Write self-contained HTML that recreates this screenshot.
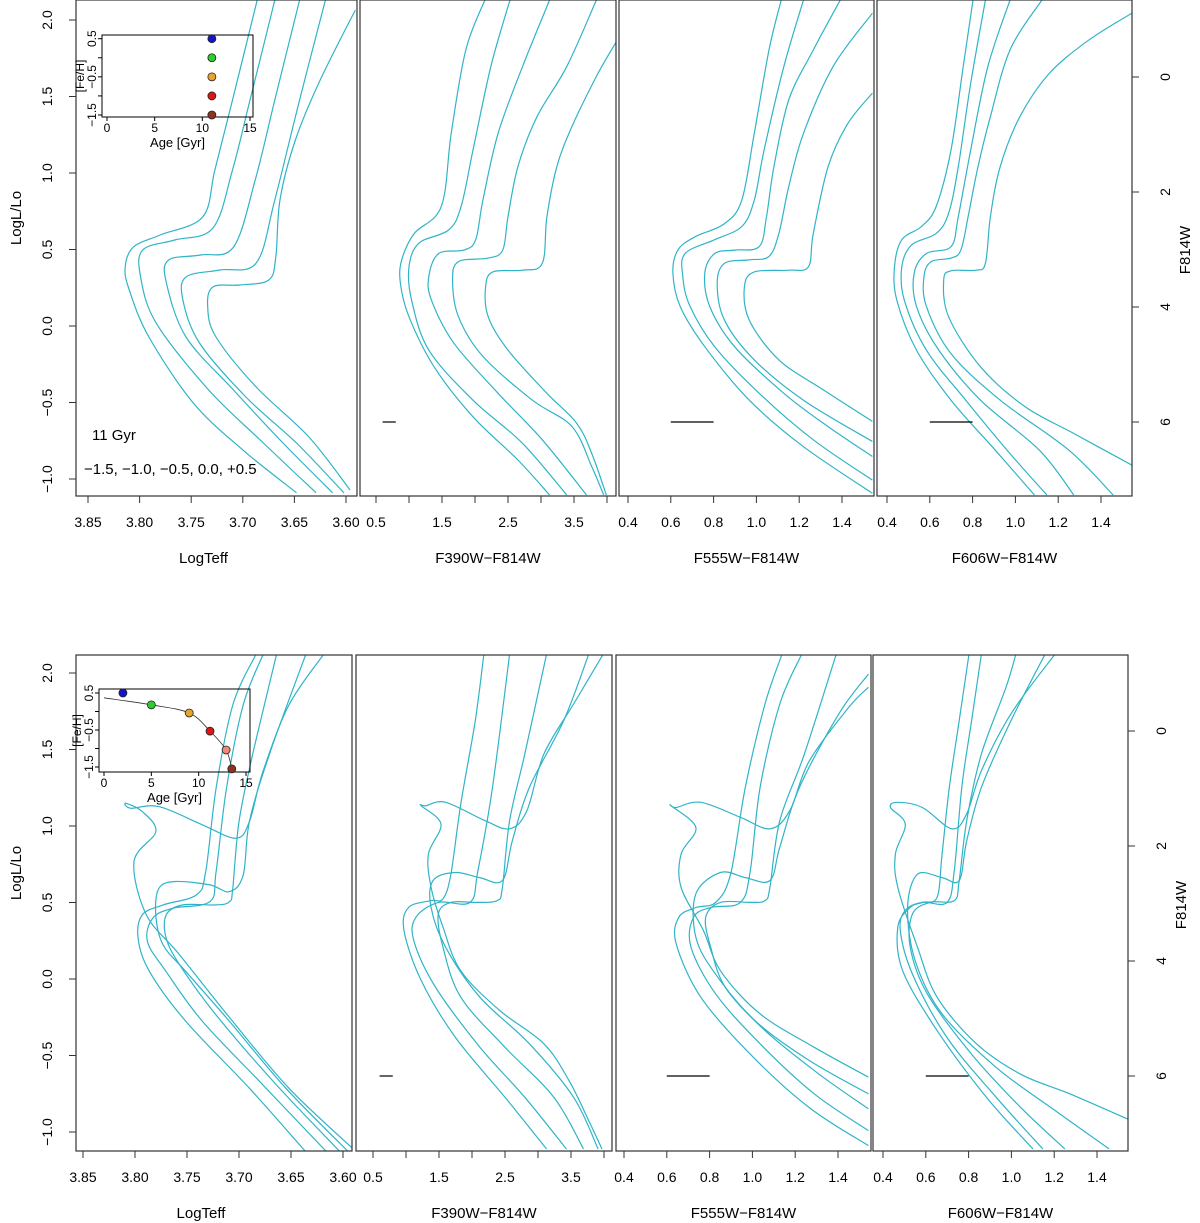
<!DOCTYPE html>
<html><head><meta charset="utf-8">
<style>
html,body{margin:0;padding:0;background:#fff;}
svg{display:block;font-family:"Liberation Sans",Arial,sans-serif;}
</style></head>
<body>
<svg id="chart" width="1200" height="1223" viewBox="0 0 1200 1223" xmlns="http://www.w3.org/2000/svg">
<defs id="defs"></defs>
<g id="root"></g>
</svg>
<script>
// ---------- data (top row: 11 Gyr, [Fe/H] = -1.5,-1.0,-0.5,0.0,+0.5) ----------
const topLogTeffCurves = [
 [[3.648,-1.09],[3.700,-0.81],[3.748,-0.503],[3.791,-0.072],[3.810,0.235],[3.814,0.386],[3.806,0.516],[3.780,0.595],[3.739,0.712],[3.727,1.02],[3.710,1.477],[3.686,2.13]],
 [[3.629,-1.09],[3.680,-0.765],[3.733,-0.418],[3.784,0.02],[3.799,0.32],[3.797,0.497],[3.766,0.562],[3.729,0.64],[3.710,1.02],[3.693,1.477],[3.669,2.13]],
 [[3.613,-1.09],[3.661,-0.765],[3.709,-0.418],[3.755,-0.072],[3.774,0.281],[3.772,0.431],[3.741,0.464],[3.709,0.516],[3.688,0.954],[3.669,1.477],[3.645,2.13]],
 [[3.602,-1.09],[3.648,-0.765],[3.697,-0.464],[3.742,-0.111],[3.758,0.17],[3.755,0.32],[3.722,0.366],[3.687,0.412],[3.669,0.824],[3.645,1.477],[3.620,2.13]],
 [[3.596,-1.072],[3.636,-0.725],[3.687,-0.399],[3.726,-0.072],[3.734,0.124],[3.729,0.255],[3.703,0.268],[3.675,0.30],[3.668,0.45],[3.664,0.824],[3.649,1.216],[3.625,1.608],[3.591,2.065]]
];
const topF390Curves = [
 [[2.15,-1.34],[1.86,-0.47],[1.64,0.98],[1.49,2.25],[1.08,2.72],[0.89,3.18],[0.87,3.59],[1.00,4.17],[1.38,5.04],[1.97,5.91],[2.65,6.66],[3.13,7.27]],
 [[2.53,-1.34],[2.24,-0.18],[1.97,1.27],[1.79,2.25],[1.60,2.66],[1.15,2.89],[1.00,3.30],[1.04,3.88],[1.30,4.75],[1.97,5.62],[2.72,6.37],[3.39,7.27]],
 [[3.13,-1.34],[2.72,-0.18],[2.35,0.98],[2.12,2.14],[2.01,2.83],[1.83,3.01],[1.45,3.07],[1.30,3.47],[1.34,3.88],[1.68,4.63],[2.35,5.50],[3.02,6.31],[3.69,7.27]],
 [[3.84,-1.34],[3.39,-0.18],[2.94,0.69],[2.65,1.56],[2.50,2.43],[2.42,3.01],[2.20,3.15],[1.75,3.21],[1.66,3.53],[1.75,4.17],[2.12,4.86],[2.87,5.62],[3.47,6.08],[3.77,6.78],[3.95,7.27]],
 [[4.14,-0.61],[3.84,-0.01],[3.47,0.86],[3.24,1.56],[3.09,2.43],[3.02,3.24],[2.72,3.36],[2.27,3.39],[2.16,3.65],[2.20,4.17],[2.50,4.75],[3.09,5.50],[3.54,6.02],[3.77,6.55],[3.99,7.27]]
];
const topF555Curves = [
 [[1.116,-1.34],[1.059,-0.47],[0.99,0.98],[0.932,2.14],[0.851,2.55],[0.713,2.78],[0.633,3.01],[0.61,3.41],[0.644,3.99],[0.759,4.69],[0.967,5.62],[1.22,6.43],[1.542,7.24]],
 [[1.22,-1.34],[1.128,-0.18],[1.036,1.27],[0.99,2.14],[0.932,2.60],[0.805,2.83],[0.667,3.07],[0.656,3.47],[0.69,3.99],[0.805,4.69],[1.013,5.50],[1.266,6.31],[1.542,7.01]],
 [[1.392,-1.34],[1.266,-0.47],[1.151,0.40],[1.082,1.56],[1.047,2.43],[1.013,2.95],[0.898,3.01],[0.805,3.07],[0.759,3.41],[0.782,3.99],[0.898,4.69],[1.128,5.50],[1.335,6.08],[1.542,6.60]],
 [[1.542,-1.11],[1.358,-0.18],[1.22,0.98],[1.151,1.91],[1.105,2.72],[1.059,3.12],[0.967,3.18],[0.851,3.24],[0.817,3.59],[0.851,4.23],[0.99,4.92],[1.22,5.62],[1.542,6.34]],
 [[1.542,0.28],[1.427,0.81],[1.335,1.56],[1.266,2.72],[1.243,3.30],[1.151,3.36],[0.99,3.39],[0.944,3.65],[0.967,4.23],[1.105,4.92],[1.312,5.44],[1.542,5.99]]
];
const topF606Curves = [
 [[0.802,-1.34],[0.756,-0.18],[0.699,1.27],[0.630,2.25],[0.561,2.60],[0.469,2.83],[0.435,3.30],[0.446,3.88],[0.538,4.75],[0.699,5.62],[0.906,6.49],[1.089,7.27]],
 [[0.860,-1.34],[0.791,0.11],[0.733,1.56],[0.688,2.37],[0.630,2.72],[0.515,2.92],[0.469,3.30],[0.481,3.88],[0.584,4.75],[0.768,5.62],[0.975,6.55],[1.147,7.27]],
 [[0.975,-1.34],[0.871,-0.18],[0.791,1.27],[0.733,2.43],[0.699,2.95],[0.584,3.07],[0.527,3.41],[0.538,3.99],[0.642,4.75],[0.837,5.62],[1.112,6.49],[1.273,7.27]],
 [[1.124,-1.34],[0.975,-0.47],[0.883,0.69],[0.825,1.56],[0.779,2.43],[0.745,3.01],[0.699,3.15],[0.607,3.21],[0.573,3.47],[0.584,3.99],[0.699,4.81],[0.929,5.62],[1.250,6.49],[1.457,7.27]],
 [[1.544,-1.11],[1.342,-0.64],[1.158,-0.06],[1.021,0.69],[0.929,1.56],[0.883,2.43],[0.860,3.24],[0.814,3.36],[0.699,3.37],[0.665,3.53],[0.688,4.17],[0.837,5.04],[1.044,5.73],[1.273,6.20],[1.544,6.75]]
];
// ---------- data (bottom row: age-metallicity relation) ----------
const botLogTeffCurves = [
 [[3.636,-1.128],[3.690,-0.714],[3.751,-0.278],[3.786,0.048],[3.797,0.266],[3.793,0.419],[3.773,0.484],[3.741,0.55],[3.732,0.702],[3.722,1.247],[3.706,1.791],[3.684,2.118]],
 [[3.616,-1.128],[3.677,-0.692],[3.735,-0.278],[3.770,0.048],[3.788,0.244],[3.783,0.397],[3.764,0.462],[3.728,0.506],[3.722,0.702],[3.712,1.247],[3.696,1.791],[3.677,2.118]],
 [[3.603,-1.128],[3.664,-0.692],[3.722,-0.235],[3.757,0.092],[3.770,0.266],[3.770,0.419],[3.754,0.484],[3.722,0.484],[3.709,0.506],[3.706,0.593],[3.700,1.029],[3.687,1.464],[3.664,2.118]],
 [[3.595,-1.128],[3.655,-0.714],[3.709,-0.278],[3.751,0.048],[3.773,0.223],[3.780,0.419],[3.777,0.593],[3.761,0.637],[3.728,0.615],[3.709,0.571],[3.696,0.68],[3.690,1.029],[3.671,1.464],[3.636,2.118]],
 [[3.591,-1.106],[3.652,-0.714],[3.706,-0.278],[3.757,0.157],[3.789,0.419],[3.801,0.767],[3.780,0.963],[3.793,1.094],[3.809,1.149],[3.804,1.116],[3.777,1.127],[3.735,1.007],[3.703,0.92],[3.690,1.029],[3.677,1.355],[3.652,1.791],[3.619,2.118]]
];
const botF390Curves = [
 [[3.13,7.27],[2.50,6.37],[1.75,5.33],[1.23,4.34],[0.97,3.47],[1.04,3.07],[1.38,2.95],[1.56,2.92],[1.68,2.49],[1.83,1.27],[2.05,-0.18],[2.18,-1.34]],
 [[3.43,7.27],[2.80,6.37],[2.12,5.50],[1.45,4.46],[1.12,3.65],[1.15,3.24],[1.49,2.98],[1.97,2.98],[2.09,2.43],[2.31,0.98],[2.57,-1.34]],
 [[3.69,7.27],[3.24,6.37],[2.50,5.50],[1.83,4.63],[1.56,3.76],[1.49,3.18],[1.68,2.98],[2.05,2.98],[2.38,2.95],[2.46,2.72],[2.57,1.56],[2.80,0.40],[3.13,-1.34]],
 [[3.91,7.27],[3.54,6.37],[2.87,5.44],[2.12,4.63],[1.60,3.76],[1.38,3.07],[1.41,2.60],[1.75,2.46],[2.12,2.55],[2.46,2.60],[2.61,1.91],[2.87,0.98],[3.39,-0.18],[3.77,-1.34]],
 [[3.97,7.27],[3.77,6.78],[3.47,6.08],[3.09,5.44],[2.42,4.86],[1.83,4.17],[1.56,3.41],[1.38,2.72],[1.34,2.14],[1.53,1.62],[1.23,1.30],[1.30,1.30],[1.60,1.24],[2.20,1.56],[2.57,1.70],[2.83,1.39],[3.09,0.40],[3.54,-0.47],[3.99,-1.34]]
];
const botF555Curves = [
 [[1.542,7.21],[1.266,6.55],[0.99,5.62],[0.759,4.63],[0.644,3.70],[0.656,3.24],[0.736,3.07],[0.828,2.98],[0.898,2.49],[0.967,0.98],[1.059,-0.47],[1.139,-1.34]],
 [[1.542,6.95],[1.289,6.31],[1.036,5.44],[0.828,4.57],[0.713,3.76],[0.725,3.24],[0.805,3.07],[0.944,2.98],[0.99,2.43],[1.036,0.98],[1.128,-0.47],[1.231,-1.34]],
 [[1.542,6.57],[1.312,5.97],[1.059,5.21],[0.874,4.46],[0.805,3.76],[0.782,3.24],[0.851,2.98],[0.99,2.98],[1.059,2.95],[1.082,2.72],[1.128,1.56],[1.243,0.40],[1.392,-1.34]],
 [[1.542,6.31],[1.266,5.73],[1.013,5.04],[0.828,4.23],[0.736,3.59],[0.736,2.83],[0.851,2.46],[0.967,2.55],[1.082,2.60],[1.128,2.02],[1.22,0.98],[1.404,-0.30],[1.542,-0.99]],
 [[1.542,6.02],[1.289,5.50],[1.036,4.92],[0.851,4.17],[0.771,3.47],[0.667,2.72],[0.667,2.14],[0.736,1.68],[0.621,1.30],[0.644,1.33],[0.759,1.24],[0.944,1.50],[1.082,1.70],[1.174,1.39],[1.266,0.52],[1.45,-0.41],[1.542,-0.76]]
];
const botF606Curves = [
 [[1.101,7.27],[0.883,6.37],[0.653,5.21],[0.492,4.17],[0.469,3.41],[0.527,3.07],[0.584,2.98],[0.653,2.89],[0.676,2.14],[0.710,0.98],[0.756,-0.18],[0.802,-1.34]],
 [[1.147,7.27],[0.929,6.37],[0.699,5.33],[0.538,4.23],[0.481,3.47],[0.504,3.12],[0.584,2.98],[0.699,2.98],[0.733,2.43],[0.768,0.98],[0.814,-0.18],[0.860,-1.34]],
 [[1.250,7.27],[1.044,6.55],[0.814,5.62],[0.607,4.57],[0.527,3.76],[0.538,3.18],[0.619,2.98],[0.733,2.95],[0.756,2.60],[0.791,1.56],[0.860,0.40],[0.975,-0.76],[1.021,-1.34]],
 [[1.457,7.27],[1.204,6.60],[0.929,5.85],[0.676,4.92],[0.550,3.99],[0.515,3.07],[0.561,2.49],[0.676,2.55],[0.756,2.60],[0.791,1.91],[0.860,0.98],[0.998,-0.18],[1.158,-1.34]],
 [[1.544,6.75],[1.273,6.31],[1.044,5.97],[0.837,5.44],[0.653,4.63],[0.561,3.76],[0.469,2.72],[0.458,2.14],[0.504,1.62],[0.435,1.33],[0.469,1.24],[0.584,1.33],[0.722,1.70],[0.791,1.44],[0.860,0.69],[0.998,-0.30],[1.204,-1.34]]
];
// inset data
const topInsetAges = [11, 11, 11, 11, 11];
const topInsetFeH = [0.5, 0.0, -0.5, -1.0, -1.5];
const botInsetAges = [2.0, 5.0, 9.0, 11.2, 12.9, 13.5];
const botInsetFeH = [0.5, 0.18, -0.04, -0.53, -1.04, -1.55];
const botAmrAges = [0, 5.0, 9.0, 11.2, 12.9, 13.5];
const botAmrFeH = [0.37, 0.18, -0.04, -0.53, -1.04, -1.55];
const insetColors = ['#1515c8','#2ecc2e','#e8a32a','#dd1515','#f08a78','#8e3222'];
// tick labels
const teffTicks = ['3.85','3.80','3.75','3.70','3.65','3.60'];
const f390Ticks = [0.5,1.0,1.5,2.0,2.5,3.0,3.5,4.0];
const f390Labels = ['0.5','1.5','2.5','3.5'];
const colTicks = ['0.4','0.6','0.8','1.0','1.2','1.4'];
const logLTicks = ['-1.0','-0.5','0.0','0.5','1.0','1.5','2.0'];
const magTicks = [0,2,4,6];

const NS='http://www.w3.org/2000/svg';
const root=document.getElementById('root');
const defs=document.getElementById('defs');
const LINE='#2fb4c7';
function el(tag,attrs,parent){const e=document.createElementNS(NS,tag);for(const k in attrs)e.setAttribute(k,attrs[k]);(parent||root).appendChild(e);return e;}
function lin(d0,p0,d1,p1){return v=>p0+(v-d0)*(p1-p0)/(d1-d0);}
function smooth(p){let d='M'+p[0][0].toFixed(1)+','+p[0][1].toFixed(1);for(let i=0;i<p.length-1;i++){const a=p[i-1]||p[i],b=p[i],c=p[i+1],e=p[i+2]||c;const c1=[b[0]+(c[0]-a[0])/6,b[1]+(c[1]-a[1])/6],c2=[c[0]-(e[0]-b[0])/6,c[1]-(e[1]-b[1])/6];d+=`C${c1[0].toFixed(1)},${c1[1].toFixed(1)} ${c2[0].toFixed(1)},${c2[1].toFixed(1)} ${c[0].toFixed(1)},${c[1].toFixed(1)}`;}return d;}
function txt(x,y,s,size,parent,rot,anchor){const t=el('text',{x:x,y:y,'font-size':size,'text-anchor':anchor||'middle',fill:'#000'},parent);if(rot)t.setAttribute('transform',`rotate(${rot} ${x} ${y})`);t.textContent=s.replace(/-/g,'\u2212');return t;}

const rows=[
 {name:'top',y0:0,y1:496,lab:20,lab0:326,mag0:77,
  panels:[
   {x0:76,x1:357,xs:lin(3.85,88,3.60,346),kind:'teff',curves:topLogTeffCurves,title:'LogTeff'},
   {x0:360,x1:616,xs:lin(0.5,376,1.5,442),kind:'f390',curves:topF390Curves,title:'F390W-F814W'},
   {x0:619,x1:874,xs:lin(0.4,628,1.4,842),kind:'col',curves:topF555Curves,title:'F555W-F814W'},
   {x0:877,x1:1132,xs:lin(0.4,887,1.4,1101),kind:'col',curves:topF606Curves,title:'F606W-F814W'}]},
 {name:'bottom',y0:655,y1:1151,lab:673,lab0:979,mag0:731,
  panels:[
   {x0:76,x1:352,xs:lin(3.85,83,3.60,343),kind:'teff',curves:botLogTeffCurves,title:'LogTeff'},
   {x0:356,x1:612,xs:lin(0.5,373,1.5,439),kind:'f390',curves:botF390Curves,title:'F390W-F814W'},
   {x0:616,x1:871,xs:lin(0.4,624,1.4,838),kind:'col',curves:botF555Curves,title:'F555W-F814W'},
   {x0:873,x1:1128,xs:lin(0.4,883,1.4,1097),kind:'col',curves:botF606Curves,title:'F606W-F814W'}]}
];

rows.forEach((row,ri)=>{
 const ysL=lin(0,row.lab0,2.0,row.lab);
 const ysM=lin(0,row.mag0,6,row.mag0+345);
 const rg=el('g',{});
 
 
 row.panels.forEach((p,pi)=>{
  const g=el('g',{},rg);
  
  
  const cid='clip'+ri+pi;
  const cp=el('clipPath',{id:cid},defs);
  el('rect',{x:p.x0,y:row.y0,width:p.x1-p.x0,height:row.y1-row.y0},cp);
  const cg=el('g',{'clip-path':`url(#${cid})`},g);
  p.curves.forEach((c,ci)=>{
   const ys=p.kind==='teff'?ysL:ysM;
   const pts=c.map(d=>[p.xs(d[0]),ys(d[1])]);
   const path=el('path',{d:smooth(pts),fill:'none',stroke:LINE,'stroke-width':1.2},cg);
   
   
  });
  if(p.kind!=='teff'){
   const eb=el('line',{x1:p.xs(0.6),x2:p.xs(0.8),y1:ysM(6),y2:ysM(6),stroke:'#000','stroke-width':1.2},g);
   
   
  }
  const fr=el('rect',{x:p.x0,y:row.y0,width:p.x1-p.x0,height:row.y1-row.y0,fill:'none',stroke:'#333','stroke-width':1.2},g);
  
  
  const xa=el('g',{},g);
  
  
  const ty=row.y1, ly=row.y1+31;
  if(p.kind==='teff'){
   teffTicks.forEach(t=>{const x=p.xs(+t);el('line',{x1:x,x2:x,y1:ty,y2:ty+7,stroke:'#333'},xa);txt(x,ly,t,14,xa);});
  }else if(p.kind==='f390'){
   f390Ticks.forEach(t=>{const x=p.xs(t);el('line',{x1:x,x2:x,y1:ty,y2:ty+7,stroke:'#333'},xa);});
   f390Labels.forEach(t=>txt(p.xs(+t),ly,t,14,xa));
  }else{
   colTicks.forEach(t=>{const x=p.xs(+t);el('line',{x1:x,x2:x,y1:ty,y2:ty+7,stroke:'#333'},xa);txt(x,ly,t,14,xa);});
  }
  const xt=txt((p.x0+p.x1)/2+(p.kind==='teff'?-13:0),row.y1+67,p.title,15,xa);
  
  
  if(pi===0){
   const ya=el('g',{},g);
   
   
   logLTicks.forEach(t=>{const y=ysL(+t);el('line',{x1:p.x0,x2:p.x0-7,y1:y,y2:y,stroke:'#333'},ya);txt(p.x0-24,y,t,14,ya,-90);});
   const yt=txt(21,(row.y0+row.y1)/2-30,'LogL/Lo',15,ya,-90);
   
   
  }
  if(pi===3){
   const ya=el('g',{},g);
   
   
   magTicks.forEach(t=>{const y=ysM(t);el('line',{x1:p.x1,x2:p.x1+7,y1:y,y2:y,stroke:'#333'},ya);txt(p.x1+38,y,String(t),14,ya,-90);});
   const yt=txt(p.x1+58,(row.y0+row.y1)/2+2,'F814W',15,ya,-90);
   
   
  }
 });
});

const a1=txt(92,440,'11 Gyr',15,root,0,'start');


const a2=txt(84,474,'-1.5, -1.0, -0.5, 0.0, +0.5',15,root,0,'start');



function inset(name,box,xs,ys,ages,fehs,amrA,amrF){
 const g=el('g',{});
 
 
 el('rect',{x:box[0],y:box[1],width:box[2]-box[0],height:box[3]-box[1],fill:'none',stroke:'#000','stroke-width':1},g);
 [0,5,10,15].forEach(t=>{const x=xs(t);el('line',{x1:x,x2:x,y1:box[3],y2:box[3]+4,stroke:'#000'},g);txt(x,box[3]+15,String(t),12,g);});
 [0.5,0,-0.5,-1,-1.5].forEach(t=>{const y=ys(t);el('line',{x1:box[0],x2:box[0]-4,y1:y,y2:y,stroke:'#000'},g);});
 [0.5,-0.5,-1.5].forEach(t=>txt(box[0]-6,ys(t),t.toFixed(1),12,g,-90));
 txt((box[0]+box[2])/2,box[3]+30,'Age [Gyr]',13,g);
 txt(box[0]-18,(box[1]+box[3])/2,'[Fe/H]',12,g,-90);
 if(amrA){
  const pts=amrA.map((a,i)=>[xs(a),ys(amrF[i])]);
  const l=el('path',{d:smooth(pts),fill:'none',stroke:'#333','stroke-width':0.8},g);
  
  
 }
 ages.forEach((a,i)=>{
  const col=amrA?insetColors[i]:[insetColors[0],insetColors[1],insetColors[2],insetColors[3],insetColors[5]][i];
  const c=el('circle',{cx:xs(a),cy:ys(fehs[i]),r:4,fill:col,stroke:'#222','stroke-width':0.8},g);
  
  
 });
}
inset('top-inset',[102,35,253,117],lin(0,107,15,250),lin(0.5,38.7,-1.5,115),topInsetAges,topInsetFeH,null);
inset('bottom-inset',[99,689,250,772],lin(0,104,15,246),lin(0.5,693,-1.5,767),botInsetAges,botInsetFeH,botAmrAges,botAmrFeH);
</script>
</body></html>
